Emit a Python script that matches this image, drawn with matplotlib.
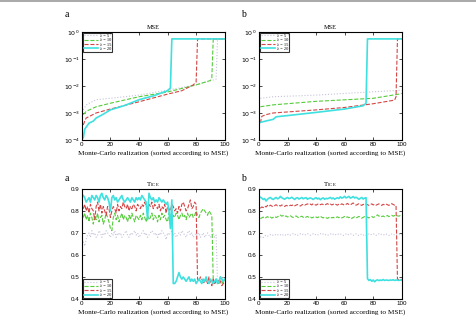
import matplotlib
matplotlib.use("Agg")
import matplotlib.pyplot as plt
from matplotlib.lines import Line2D
import numpy as np

labels = ["λ = 5", "λ = 10", "λ = 15", "λ = 20"]
colors = ["#c4c4dc", "#55cc3a", "#d54545", "#3ee0e0"]
styles = [":", "--", "--", "-"]
widths = [0.8, 0.8, 0.8, 1.2]

# ---- MSE panel a (x knots, y values) ----
mse_a_x5 = [1, 3, 10, 20, 40, 60, 80, 94, 95, 100]
mse_a_y5 = [1.3e-3, 2.0e-3, 3.1e-3, 3.5e-3, 4.6e-3, 7.0e-3, 1.1e-2, 1.8e-2, 0.56, 0.56]
mse_a_x10 = [1, 3, 10, 20, 40, 60, 80, 90, 91, 92, 100]
mse_a_y10 = [8.7e-4, 1.15e-3, 1.7e-3, 2.3e-3, 4.0e-3, 6.0e-3, 1.1e-2, 1.6e-2, 2.0e-2, 0.56, 0.56]
mse_a_x15 = [1, 2, 3, 10, 20, 40, 60, 70, 78, 80, 81, 100]
mse_a_y15 = [3.6e-4, 5.0e-4, 6.5e-4, 1.0e-3, 1.4e-3, 2.6e-3, 5.0e-3, 6.7e-3, 1.1e-2, 1.4e-2, 0.56, 0.56]
mse_a_x20 = [1, 2, 5, 8, 10, 15, 20, 30, 40, 50, 60, 62, 63, 100]
mse_a_y20 = [1.2e-4, 2.5e-4, 4.2e-4, 5.0e-4, 6.5e-4, 9.0e-4, 1.3e-3, 1.9e-3, 3.1e-3, 4.3e-3, 6.7e-3, 8.5e-3, 0.56, 0.56]

# ---- MSE panel b ----
mse_b_x5 = [1, 10, 40, 70, 100]
mse_b_y5 = [3.5e-3, 4.0e-3, 4.6e-3, 5.7e-3, 7.0e-3]
mse_b_x10 = [1, 10, 40, 80, 98, 100]
mse_b_y10 = [1.7e-3, 2.0e-3, 2.7e-3, 3.5e-3, 5.0e-3, 5.4e-3]
mse_b_x15 = [1, 2, 5, 10, 40, 60, 80, 95, 96, 97, 100]
mse_b_y15 = [4.2e-4, 7.5e-4, 8.7e-4, 1.0e-3, 1.3e-3, 1.6e-3, 2.2e-3, 3.0e-3, 4.0e-3, 0.56, 0.56]
mse_b_x20 = [1, 10, 12, 20, 40, 60, 73, 75, 76, 100]
mse_b_y20 = [4.5e-4, 5.8e-4, 7.2e-4, 8.0e-4, 1.05e-3, 1.4e-3, 1.85e-3, 2.3e-3, 0.56, 0.56]

# ---- Tice panel a (x = 1..100) ----
tice_a5 = [0.66,0.64,0.67,0.69,0.70,0.68,0.71,0.69,0.70,0.68,
0.69,0.71,0.70,0.68,0.70,0.69,0.71,0.70,0.69,0.68,
0.70,0.69,0.71,0.68,0.70,0.69,0.70,0.68,0.69,0.70,
0.71,0.69,0.68,0.70,0.69,0.70,0.71,0.69,0.70,0.68,
0.69,0.70,0.71,0.69,0.70,0.68,0.69,0.70,0.71,0.70,
0.69,0.70,0.68,0.70,0.69,0.71,0.70,0.69,0.67,0.70,
0.69,0.70,0.71,0.69,0.70,0.68,0.69,0.70,0.69,0.71,
0.70,0.69,0.68,0.70,0.71,0.69,0.70,0.68,0.69,0.70,
0.69,0.70,0.68,0.69,0.70,0.68,0.69,0.70,0.69,0.68,
0.69,0.70,0.68,0.69,0.48,0.47,0.49,0.48,0.50,0.49]
tice_a10 = [0.77,0.79,0.76,0.78,0.75,0.79,0.77,0.74,0.78,0.76,
0.79,0.75,0.77,0.78,0.74,0.76,0.79,0.77,0.75,0.72,
0.71,0.77,0.79,0.76,0.78,0.75,0.77,0.79,0.76,0.78,
0.77,0.75,0.78,0.76,0.79,0.77,0.75,0.78,0.77,0.76,
0.78,0.76,0.79,0.77,0.75,0.78,0.76,0.77,0.79,0.76,
0.78,0.77,0.75,0.78,0.76,0.79,0.77,0.78,0.76,0.75,
0.79,0.78,0.76,0.78,0.77,0.79,0.78,0.76,0.78,0.79,
0.77,0.78,0.76,0.79,0.77,0.78,0.79,0.77,0.78,0.80,
0.78,0.77,0.79,0.80,0.81,0.80,0.79,0.78,0.80,0.79,
0.78,0.48,0.47,0.49,0.48,0.47,0.50,0.48,0.47,0.49]
tice_a15 = [0.81,0.83,0.80,0.82,0.79,0.83,0.81,0.80,0.76,0.82,
0.84,0.80,0.83,0.79,0.82,0.80,0.78,0.82,0.81,0.77,
0.80,0.82,0.81,0.79,0.83,0.80,0.82,0.81,0.84,0.82,
0.81,0.83,0.80,0.82,0.81,0.83,0.82,0.80,0.83,0.82,
0.81,0.83,0.82,0.84,0.82,0.81,0.83,0.82,0.84,0.81,
0.83,0.82,0.81,0.83,0.80,0.82,0.81,0.83,0.79,0.82,
0.81,0.80,0.83,0.82,0.80,0.81,0.79,0.82,0.80,0.83,
0.84,0.82,0.80,0.81,0.83,0.85,0.81,0.82,0.84,0.83,
0.49,0.48,0.50,0.49,0.47,0.48,0.49,0.47,0.50,0.48,
0.46,0.49,0.47,0.48,0.47,0.49,0.48,0.46,0.47,0.48]
tice_a20 = [0.87,0.86,0.84,0.85,0.86,0.84,0.87,0.86,0.85,0.87,
0.86,0.84,0.87,0.88,0.86,0.85,0.87,0.86,0.84,0.80,
0.86,0.87,0.85,0.86,0.84,0.85,0.86,0.87,0.85,0.84,
0.85,0.86,0.85,0.84,0.86,0.85,0.84,0.86,0.85,0.86,
0.85,0.87,0.86,0.85,0.84,0.76,0.88,0.86,0.85,0.86,
0.84,0.85,0.84,0.86,0.85,0.84,0.85,0.84,0.83,0.84,
0.80,0.72,0.85,0.47,0.47,0.48,0.50,0.52,0.50,0.49,
0.50,0.49,0.48,0.49,0.50,0.48,0.49,0.48,0.49,0.47,
0.48,0.49,0.48,0.47,0.49,0.48,0.50,0.48,0.47,0.49,
0.48,0.47,0.48,0.49,0.47,0.48,0.50,0.49,0.48,0.49]

# ---- Tice panel b ----
tice_b5 = [0.680,0.684,0.679,0.686,0.690,0.685,0.689,0.692,0.687,0.691,
0.694,0.689,0.692,0.688,0.691,0.695,0.690,0.693,0.688,0.692,
0.695,0.690,0.693,0.697,0.691,0.694,0.689,0.693,0.696,0.691,
0.694,0.690,0.693,0.697,0.692,0.689,0.693,0.696,0.691,0.694,
0.690,0.693,0.697,0.692,0.695,0.690,0.693,0.689,0.692,0.696,
0.691,0.694,0.690,0.693,0.697,0.692,0.695,0.691,0.688,0.692,
0.695,0.690,0.694,0.697,0.692,0.689,0.693,0.696,0.691,0.688,
0.692,0.695,0.690,0.693,0.689,0.692,0.695,0.690,0.694,0.697,
0.692,0.689,0.693,0.696,0.691,0.694,0.690,0.693,0.696,0.691,
0.688,0.692,0.695,0.690,0.693,0.689,0.692,0.695,0.690,0.693]
tice_b10 = [0.765,0.768,0.772,0.766,0.770,0.774,0.769,0.772,0.767,0.771,
0.775,0.770,0.773,0.778,0.781,0.776,0.779,0.774,0.777,0.772,
0.775,0.778,0.773,0.770,0.774,0.777,0.772,0.769,0.773,0.776,
0.771,0.768,0.772,0.775,0.770,0.773,0.768,0.771,0.775,0.772,
0.769,0.773,0.776,0.771,0.768,0.772,0.769,0.766,0.770,0.773,
0.768,0.771,0.767,0.770,0.773,0.769,0.772,0.768,0.771,0.775,
0.770,0.773,0.769,0.772,0.766,0.770,0.773,0.768,0.771,0.775,
0.770,0.767,0.771,0.774,0.769,0.772,0.768,0.771,0.775,0.770,
0.773,0.777,0.782,0.776,0.779,0.774,0.777,0.773,0.776,0.779,
0.774,0.777,0.780,0.776,0.779,0.775,0.778,0.776,0.779,0.777]
tice_b15 = [0.812,0.818,0.815,0.822,0.818,0.825,0.820,0.826,0.822,0.819,
0.824,0.828,0.823,0.826,0.822,0.827,0.824,0.820,0.825,0.823,
0.821,0.826,0.824,0.828,0.823,0.826,0.829,0.825,0.822,0.827,
0.830,0.826,0.829,0.832,0.828,0.831,0.827,0.833,0.829,0.826,
0.830,0.833,0.828,0.831,0.829,0.826,0.830,0.833,0.828,0.831,
0.827,0.830,0.833,0.829,0.826,0.831,0.828,0.832,0.829,0.826,
0.830,0.834,0.829,0.827,0.832,0.836,0.830,0.826,0.829,0.833,
0.828,0.825,0.830,0.827,0.831,0.828,0.825,0.829,0.832,0.827,
0.830,0.826,0.829,0.832,0.828,0.825,0.830,0.827,0.831,0.828,
0.825,0.830,0.833,0.829,0.826,0.825,0.490,0.488,0.490,0.488]
tice_b20 = [0.862,0.858,0.852,0.856,0.845,0.853,0.858,0.861,0.855,0.852,
0.857,0.861,0.855,0.858,0.866,0.860,0.856,0.853,0.858,0.861,
0.856,0.858,0.862,0.857,0.852,0.858,0.860,0.854,0.857,0.861,
0.855,0.858,0.860,0.853,0.857,0.859,0.856,0.852,0.857,0.860,
0.854,0.858,0.851,0.856,0.859,0.853,0.857,0.855,0.858,0.861,
0.855,0.859,0.853,0.857,0.860,0.856,0.864,0.858,0.861,0.866,
0.859,0.862,0.866,0.858,0.861,0.865,0.859,0.862,0.858,0.853,
0.857,0.861,0.854,0.858,0.860,0.492,0.484,0.488,0.480,0.486,
0.478,0.484,0.487,0.483,0.486,0.484,0.488,0.484,0.486,0.485,
0.484,0.486,0.485,0.487,0.484,0.486,0.485,0.484,0.486,0.485]

xlabel = "Monte-Carlo realization (sorted according to MSE)"
xticks = [0, 20, 40, 60, 80, 100]
tice_ticks = [0.4, 0.5, 0.6, 0.7, 0.8, 0.9]

SERIF = "Liberation Serif"
SANS = "Liberation Sans"

fig = plt.figure(figsize=(4.76, 3.18), dpi=100)
fig.add_artist(Line2D([0, 1], [0.996, 0.996], color="#999999", lw=1.2, transform=fig.transFigure))

positions = {
    "tl": [0.172, 0.560, 0.300, 0.339],
    "tr": [0.544, 0.560, 0.300, 0.339],
    "bl": [0.172, 0.060, 0.300, 0.346],
    "br": [0.544, 0.060, 0.300, 0.346],
}


def style_axes(ax):
    for s in ax.spines.values():
        s.set_color("black")
        s.set_linewidth(0.8)
    ax.tick_params(direction="in", length=2, width=0.5, labelsize=4.5, pad=1.5,
                   top=True, right=True, which="major")
    ax.tick_params(which="minor", direction="in", length=1, width=0.4, top=True, right=True)
    for lab in ax.get_xticklabels() + ax.get_yticklabels():
        lab.set_fontfamily(SANS)
    ax.set_xlim(0, 100)
    ax.set_xticks(xticks)
    ax.set_xlabel(xlabel, fontsize=5.2, family=SERIF, labelpad=2)


def add_legend(ax, loc):
    leg = ax.legend(loc=loc, fontsize=3.2, frameon=True, fancybox=False,
                    handlelength=3.2, labelspacing=0.05, borderpad=0.25,
                    handletextpad=0.4, borderaxespad=0.15,
                    prop={"family": SERIF, "size": 3.2})
    leg.get_frame().set_edgecolor("black")
    leg.get_frame().set_linewidth(0.8)


mse_sets = {
    "tl": [(mse_a_x5, mse_a_y5), (mse_a_x10, mse_a_y10), (mse_a_x15, mse_a_y15), (mse_a_x20, mse_a_y20)],
    "tr": [(mse_b_x5, mse_b_y5), (mse_b_x10, mse_b_y10), (mse_b_x15, mse_b_y15), (mse_b_x20, mse_b_y20)],
}
for key in ["tl", "tr"]:
    ax = fig.add_axes(positions[key])
    for i, (xs, ys) in enumerate(mse_sets[key]):
        ax.plot(xs, ys, color=colors[i], ls=styles[i], lw=widths[i], label=labels[i])
    ax.set_yscale("log")
    ax.set_ylim(1e-4, 1)
    ax.set_yticks([1e-4, 1e-3, 1e-2, 1e-1, 1])
    ax.set_yticklabels([r"$10^{-4}$", r"$10^{-3}$", r"$10^{-2}$", r"$10^{-1}$", r"$10^{0}$"])
    ax.yaxis.set_minor_locator(matplotlib.ticker.NullLocator())
    style_axes(ax)
    ax.set_title("MSE", fontsize=4.5, family=SERIF, pad=2)
    add_legend(ax, "upper left")

tice_sets = {
    "bl": [tice_a5, tice_a10, tice_a15, tice_a20],
    "br": [tice_b5, tice_b10, tice_b15, tice_b20],
}
xs = np.arange(1, 101)
for key in ["bl", "br"]:
    ax = fig.add_axes(positions[key])
    for i, ys in enumerate(tice_sets[key]):
        ax.plot(xs, ys, color=colors[i], ls=styles[i], lw=widths[i], label=labels[i])
    ax.set_ylim(0.4, 0.9)
    ax.set_yticks(tice_ticks)
    ax.set_yticklabels([f"{t:.1f}" for t in tice_ticks])
    style_axes(ax)
    ax.set_title(r"T$\mathregular{_{ICE}}$", fontsize=5, family=SERIF, pad=2)
    add_legend(ax, "lower left")

for txt, x, y in [("a", 0.141, 0.953), ("b", 0.511, 0.953), ("a", 0.141, 0.44), ("b", 0.511, 0.44)]:
    fig.text(x, y, txt, fontsize=7, family=SERIF, ha="center", va="center")

fig.savefig("out.png", dpi=100)
